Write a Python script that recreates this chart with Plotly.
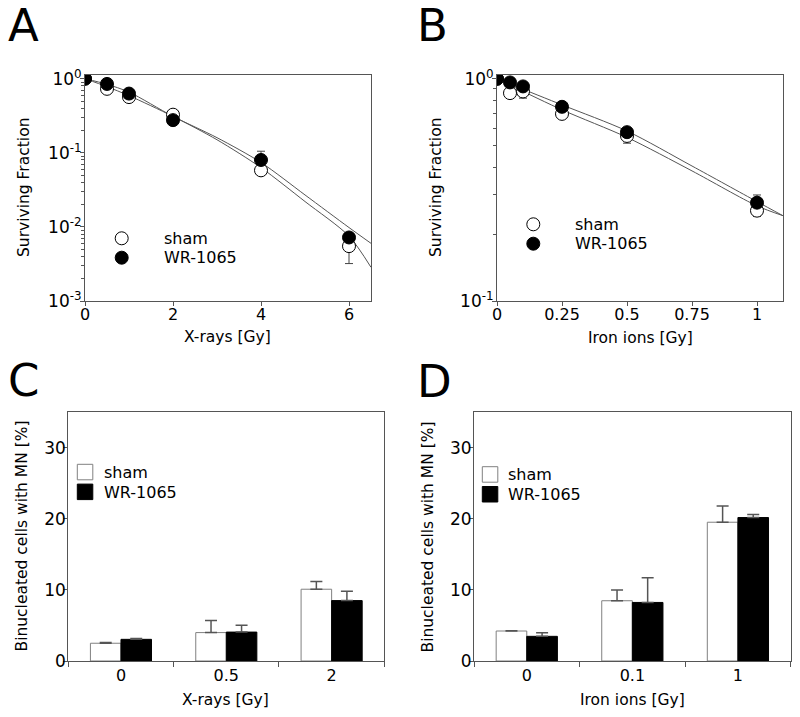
import plotly.graph_objects as go

W, H = 800, 717
FONT = "DejaVu Sans"

# ---------------- data ----------------
# Panel A: X-rays clonogenic survival
xray_dose = [0, 0.5, 1, 2, 4, 6]
sf_xray_sham = [1.0, 0.73, 0.565, 0.327, 0.058, 0.0055]
sf_xray_sham_err_up = [0, 0, 0, 0, 0.004, 0.0015]
sf_xray_sham_err_dn = [0, 0, 0, 0, 0.004, 0.0023]
sf_xray_wr = [1.0, 0.85, 0.63, 0.276, 0.080, 0.0072]
sf_xray_wr_err_up = [0, 0, 0, 0, 0.025, 0]
sf_xray_wr_err_dn = [0, 0, 0, 0, 0.008, 0]
# fitted curves
fit_xray_dose = [0, 0.5, 1, 2, 3, 4, 5, 6, 6.5]
fit_xray_upper = [1.0, 0.84, 0.66, 0.31, 0.160, 0.074, 0.027, 0.0098, 0.006]
fit_xray_lower = [1.0, 0.78, 0.59, 0.31, 0.150, 0.063, 0.022, 0.0075, 0.00285]

# Panel B: Iron ions clonogenic survival
iron_dose = [0, 0.05, 0.1, 0.25, 0.5, 1.0]
sf_iron_sham = [1.0, 0.862, 0.877, 0.695, 0.553, 0.255]
sf_iron_sham_err_up = [0, 0, 0, 0, 0, 0.015]
sf_iron_sham_err_dn = [0, 0, 0.059, 0, 0.04, 0.015]
sf_iron_wr = [1.0, 0.963, 0.924, 0.748, 0.575, 0.277]
sf_iron_wr_err_up = [0, 0, 0, 0.03, 0, 0.023]
sf_iron_wr_err_dn = [0, 0, 0, 0.03, 0, 0.01]
fit_iron_dose = [0, 0.25, 0.5, 0.75, 1.0, 1.1]
fit_iron_upper = [1.0, 0.763, 0.582, 0.405, 0.28, 0.242]
fit_iron_lower = [1.0, 0.725, 0.545, 0.385, 0.268, 0.242]

# Panel C: micronuclei after X-rays
cats_xray = ["0", "0.5", "2"]
mn_xray_sham = [2.5, 4.0, 10.1]
mn_xray_sham_err = [0.1, 1.7, 1.1]
mn_xray_wr = [3.05, 4.07, 8.5]
mn_xray_wr_err = [0.13, 0.95, 1.33]

# Panel D: micronuclei after iron ions
cats_iron = ["0", "0.1", "1"]
mn_iron_sham = [4.22, 8.48, 19.53]
mn_iron_sham_err = [0.04, 1.5, 2.3]
mn_iron_wr = [3.47, 8.24, 20.19]
mn_iron_wr_err = [0.51, 3.47, 0.42]

series_names = ["sham", "WR-1065"]
log_ticks_a = [0.001, 0.01, 0.1, 1]
log_text_a = ["10<sup>-3</sup>", "10<sup>-2</sup>", "10<sup>-1</sup>", "10<sup>0</sup>"]
log_ticks_b = [0.1, 1]
log_text_b = ["10<sup>-1</sup>", "10<sup>0</sup>"]
xray_ticks = [0, 2, 4, 6]
iron_ticks = [0, 0.25, 0.5, 0.75, 1]
iron_ticktext = ["0", "0.25", "0.5", "0.75", "1"]

# ---------------- helpers ----------------
def px(x):
    return x / W

def py(y):
    return 1 - y / H

AX = "#555555"
LINE = "#555555"

fig = go.Figure()

def scatter_pts(x, y, up, dn, filled, xa, ya):
    return go.Scatter(
        x=x, y=y, mode="markers", xaxis=xa, yaxis=ya, showlegend=False,
        marker=dict(symbol="circle", size=13,
                    color="black" if filled else "white",
                    line=dict(color="black", width=1)),
        error_y=dict(type="data", symmetric=False, array=up, arrayminus=dn,
                     color="#444", thickness=1, width=4),
    )

def fit_line(x, y, xa, ya):
    return go.Scatter(x=x, y=y, mode="lines", xaxis=xa, yaxis=ya, showlegend=False,
                      line=dict(color=LINE, width=1, shape="spline", smoothing=0.8))

# Panel A
fig.add_trace(fit_line(fit_xray_dose, fit_xray_upper, "x", "y"))
fig.add_trace(fit_line(fit_xray_dose, fit_xray_lower, "x", "y"))
fig.add_trace(scatter_pts(xray_dose, sf_xray_sham, sf_xray_sham_err_up, sf_xray_sham_err_dn, False, "x", "y"))
fig.add_trace(scatter_pts(xray_dose, sf_xray_wr, sf_xray_wr_err_up, sf_xray_wr_err_dn, True, "x", "y"))

# Panel B
fig.add_trace(fit_line(fit_iron_dose, fit_iron_upper, "x2", "y2"))
fig.add_trace(fit_line(fit_iron_dose, fit_iron_lower, "x2", "y2"))
fig.add_trace(scatter_pts(iron_dose, sf_iron_sham, sf_iron_sham_err_up, sf_iron_sham_err_dn, False, "x2", "y2"))
fig.add_trace(scatter_pts(iron_dose, sf_iron_wr, sf_iron_wr_err_up, sf_iron_wr_err_dn, True, "x2", "y2"))

def bars(cats, vals, err, filled, xa, ya):
    return go.Bar(
        x=cats, y=vals, xaxis=xa, yaxis=ya, showlegend=False,
        marker=dict(color="black" if filled else "white",
                    line=dict(color="black" if filled else "#808080", width=1)),
        error_y=dict(type="data", symmetric=False, array=err, arrayminus=[0] * len(err),
                     color="#555", thickness=1.5, width=6),
    )

fig.add_trace(bars(cats_xray, mn_xray_sham, mn_xray_sham_err, False, "x3", "y3"))
fig.add_trace(bars(cats_xray, mn_xray_wr, mn_xray_wr_err, True, "x3", "y3"))
fig.add_trace(bars(cats_iron, mn_iron_sham, mn_iron_sham_err, False, "x4", "y4"))
fig.add_trace(bars(cats_iron, mn_iron_wr, mn_iron_wr_err, True, "x4", "y4"))

common = dict(showline=True, mirror=True, linecolor=AX, linewidth=1, ticks="outside",
              ticklen=4, tickcolor=AX, tickwidth=1, showgrid=False, zeroline=False,
              automargin=False,
              tickfont=dict(family=FONT, size=16, color="black"), fixedrange=True)
ytickfont = dict(family=FONT, size=17, color="black")

top_dom = [py(301), py(75)]
bot_dom = [py(661), py(412.3)]

minor_a = [m * 10 ** e for e in (-3, -2, -1) for m in range(2, 10)]
minor_b = [m * 0.1 for m in range(2, 10)]

fig.update_layout(
    width=W, height=H, margin=dict(l=0, r=0, t=0, b=0, autoexpand=False),
    paper_bgcolor="white", plot_bgcolor="white",
    font=dict(family=FONT, color="black"),
    barmode="group", bargap=0.42, bargroupgap=0,
    xaxis=dict(common, domain=[px(85), px(371)], range=[0, 6.5], tickmode="array",
               tickvals=xray_ticks, anchor="y", ticklabelstandoff=-5),
    yaxis=dict(common, domain=top_dom, type="log", range=[-3, 0.05], tickmode="array",
               tickvals=log_ticks_a, ticktext=log_text_a, anchor="x", tickfont=ytickfont,
               ticklabelstandoff=-5,
               minor=dict(tickmode="array", tickvals=minor_a, ticks="outside", ticklen=3,
                          tickcolor=AX)),
    xaxis2=dict(common, domain=[px(497), px(783)], range=[0, 1.1], tickmode="array",
                tickvals=iron_ticks, ticktext=iron_ticktext, anchor="y2", ticklabelstandoff=-5),
    yaxis2=dict(common, domain=top_dom, type="log", range=[-1, 0.017], tickmode="array",
                tickvals=log_ticks_b, ticktext=log_text_b, anchor="x2", tickfont=ytickfont,
                ticklabelstandoff=-5,
                minor=dict(tickmode="array", tickvals=minor_b, ticks="outside", ticklen=3,
                           tickcolor=AX)),
    xaxis3=dict(common, domain=[px(68.3), px(384.3)], type="category", tickson="boundaries",
                ticklen=5, anchor="y3"),
    yaxis3=dict(common, domain=bot_dom, range=[0, 35], tickvals=[0, 10, 20, 30], anchor="x3",
                tickfont=ytickfont, ticklabelstandoff=-6),
    xaxis4=dict(common, domain=[px(474), px(790.7)], type="category", tickson="boundaries",
                ticklen=5, anchor="y4"),
    yaxis4=dict(common, domain=bot_dom, range=[0, 35], tickvals=[0, 10, 20, 30], anchor="x4",
                tickfont=ytickfont, ticklabelstandoff=-6),
)

annotations = []
# panel letters
for letter, x, y in [("A", 6, 25), ("B", 415, 25), ("C", 6, 380), ("D", 415, 382)]:
    annotations.append(dict(text=letter, x=px(x), y=py(y), xref="paper", yref="paper",
                            xanchor="left", yanchor="middle", showarrow=False,
                            font=dict(family=FONT, size=45, color="black")))
# axis titles
titles = [
    ("X-rays [Gy]", 228, 337, 0), ("Surviving Fraction", 24, 188, -90),
    ("Iron ions [Gy]", 640, 338, 0), ("Surviving Fraction", 436, 188, -90),
    ("X-rays [Gy]", 226, 700, 0), ("Binucleated cells with MN [%]", 21, 536.5, -90),
    ("Iron ions [Gy]", 632, 700, 0), ("Binucleated cells with MN [%]", 427, 536.5, -90),
]
for t, x, y, ang in titles:
    annotations.append(dict(text=t, x=px(x), y=py(y), xref="paper", yref="paper",
                            xanchor="center", yanchor="middle", textangle=ang, showarrow=False,
                            font=dict(family=FONT, size=15.5, color="black")))

shapes = []
# legends for scatter panels (A, B)
for mx, my, tx in [(121.7, 238.3, 161.7), (533.3, 224.3, 573.3)]:
    for i, name in enumerate(series_names):
        cy = my + i * 19.4
        shapes.append(dict(type="circle", xref="paper", yref="paper",
                           x0=px(mx - 6.5), x1=px(mx + 6.5), y0=py(cy + 6.5), y1=py(cy - 6.5),
                           fillcolor="black" if i else "white",
                           line=dict(color="black", width=1)))
        annotations.append(dict(text=name, x=px(tx), y=py(cy), xref="paper", yref="paper",
                                xanchor="left", yanchor="middle", showarrow=False,
                                font=dict(family=FONT, size=16, color="black")))
# legends for bar panels (C, D)
for bx, by, tx in [(77.3, 464.3, 101.7), (482.3, 466.7, 506)]:
    for i, name in enumerate(series_names):
        y0 = by + i * 19.8
        shapes.append(dict(type="rect", xref="paper", yref="paper",
                           x0=px(bx), x1=px(bx + 15.5), y0=py(y0 + 15.5), y1=py(y0),
                           fillcolor="black" if i else "white",
                           line=dict(color="black" if i else "#808080", width=1)))
        annotations.append(dict(text=name, x=px(tx), y=py(y0 + 8), xref="paper", yref="paper",
                                xanchor="left", yanchor="middle", showarrow=False,
                                font=dict(family=FONT, size=16, color="black")))

fig.update_layout(annotations=annotations, shapes=shapes)
fig.write_html("out.html", config={"displayModeBar": False},
               post_script="document.body.style.margin='0';document.body.style.overflow='hidden';")
